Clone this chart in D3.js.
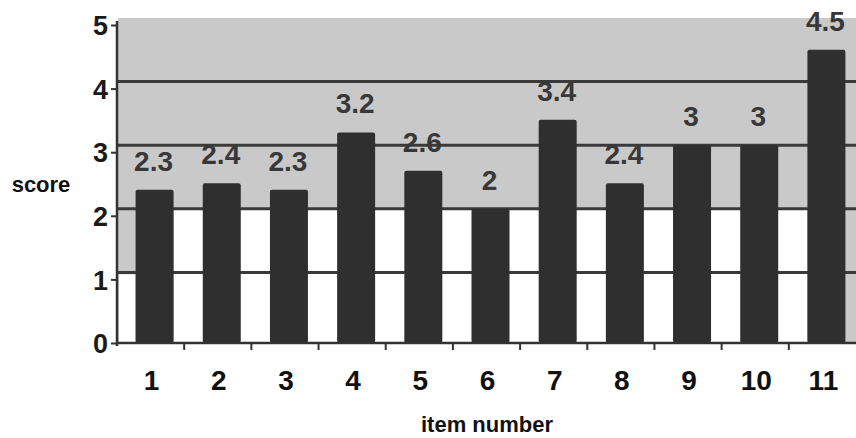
<!DOCTYPE html>
<html>
<head>
<meta charset="utf-8">
<script src="https://cdn.jsdelivr.net/npm/d3@7"></script>
<style>
  html, body { margin: 0; padding: 0; background: #fff; }
  svg { display: block; }
  text { font-family: "Liberation Sans", Arial, sans-serif; font-weight: bold; }
</style>
</head>
<body>
<svg id="chart" width="856" height="438"></svg>
<script>
// Item scores
const items = ["1", "2", "3", "4", "5", "6", "7", "8", "9", "10", "11"];
const scores = [2.3, 2.4, 2.3, 3.2, 2.6, 2, 3.4, 2.4, 3, 3, 4.5];
const yTicks = [0, 1, 2, 3, 4, 5];

const plotLeft = 117, plotRight = 856, plotTop = 25, plotBottom = 343;
const depth = 7;      // back-wall offset of the 3D plot
const shift = 4;      // bars sit slightly right of band centre

const svg = d3.select("#chart");

const x = d3.scaleBand().domain(items).range([plotLeft, plotRight]).padding(0);
const y = d3.scaleLinear().domain([0, 5]).range([plotBottom, plotTop]);
const wall = v => y(v) - depth;
const barW = 38;
const barX = d => x(d) + x.bandwidth() / 2 - barW / 2 + shift;

// back wall
svg.append("rect")
  .attr("x", plotLeft + 1).attr("y", wall(5))
  .attr("width", plotRight - plotLeft - 1).attr("height", plotBottom - wall(5))
  .attr("fill", "#c9c9c9");

// pale floor strip below the lower gridlines
svg.append("rect")
  .attr("x", barX(items[0]) + barW).attr("y", wall(2))
  .attr("width", barX(items[items.length - 1]) - barX(items[0]) - barW)
  .attr("height", plotBottom - wall(2))
  .attr("fill", "#ffffff");
svg.append("rect")
  .attr("x", plotLeft + 2).attr("y", wall(1) + 2)
  .attr("width", barX(items[0]) - plotLeft - 2)
  .attr("height", plotBottom - wall(1) - 2)
  .attr("fill", "#ffffff");

// gridlines on the wall
svg.append("g").selectAll("line")
  .data(yTicks.slice(1, 5))
  .join("line")
  .attr("x1", plotLeft + 1).attr("x2", plotRight)
  .attr("y1", d => wall(d)).attr("y2", d => wall(d))
  .attr("stroke", "#3a3a3a").attr("stroke-width", 3);

// bars
svg.append("g").selectAll("rect")
  .data(items)
  .join("rect")
  .attr("x", d => barX(d))
  .attr("y", (d, i) => wall(scores[i]))
  .attr("width", barW)
  .attr("height", (d, i) => plotBottom - wall(scores[i]))
  .attr("rx", 2)
  .attr("fill", "#2f2f2f");

// value labels
svg.append("g").selectAll("text")
  .data(items)
  .join("text")
  .attr("x", d => x(d) + x.bandwidth() / 2 + shift - 1)
  .attr("y", (d, i) => wall(scores[i]) - 19)
  .attr("text-anchor", "middle")
  .attr("font-size", 28)
  .attr("fill", "#383838")
  .text((d, i) => scores[i]);

// y axis
const yAxis = d3.axisLeft(y).tickValues(yTicks).tickFormat(d3.format("d")).tickSize(6).tickPadding(3);
const gy = svg.append("g").attr("transform", `translate(${plotLeft},0)`).call(yAxis);
gy.select(".domain").attr("stroke", "#333").attr("stroke-width", 2.5)
  .attr("d", `M0,${wall(5) + 3}V${plotBottom + 3}`);
gy.selectAll(".tick line").attr("stroke", "#333").attr("stroke-width", 2);
gy.selectAll(".tick text").attr("font-size", 27).attr("fill", "#1a1a1a")
  .attr("dy", "0.36em").style("font-family", "Liberation Sans, Arial, sans-serif").style("font-weight", "bold");

// x axis
const xAxis = d3.axisBottom(x).tickSize(0).tickPadding(27);
const gx = svg.append("g").attr("transform", `translate(0,${plotBottom})`).call(xAxis);
gx.select(".domain").attr("stroke", "#333").attr("stroke-width", 2.5)
  .attr("d", `M${plotLeft},0H${plotRight}`);
gx.selectAll(".tick text").attr("font-size", 28).attr("fill", "#111")
  .attr("dx", 1)
  .style("font-family", "Liberation Sans, Arial, sans-serif").style("font-weight", "bold");
// tick marks between categories
svg.append("g").selectAll("line")
  .data(items.slice(1))
  .join("line")
  .attr("x1", d => x(d)).attr("x2", d => x(d))
  .attr("y1", plotBottom).attr("y2", plotBottom + 7)
  .attr("stroke", "#333").attr("stroke-width", 2);

// axis titles
svg.append("text")
  .attr("x", 41).attr("y", 192)
  .attr("text-anchor", "middle")
  .attr("font-size", 22).attr("fill", "#111")
  .text("score");
svg.append("text")
  .attr("x", 487).attr("y", 432)
  .attr("text-anchor", "middle")
  .attr("font-size", 22).attr("fill", "#111")
  .text("item number");
</script>
</body>
</html>
